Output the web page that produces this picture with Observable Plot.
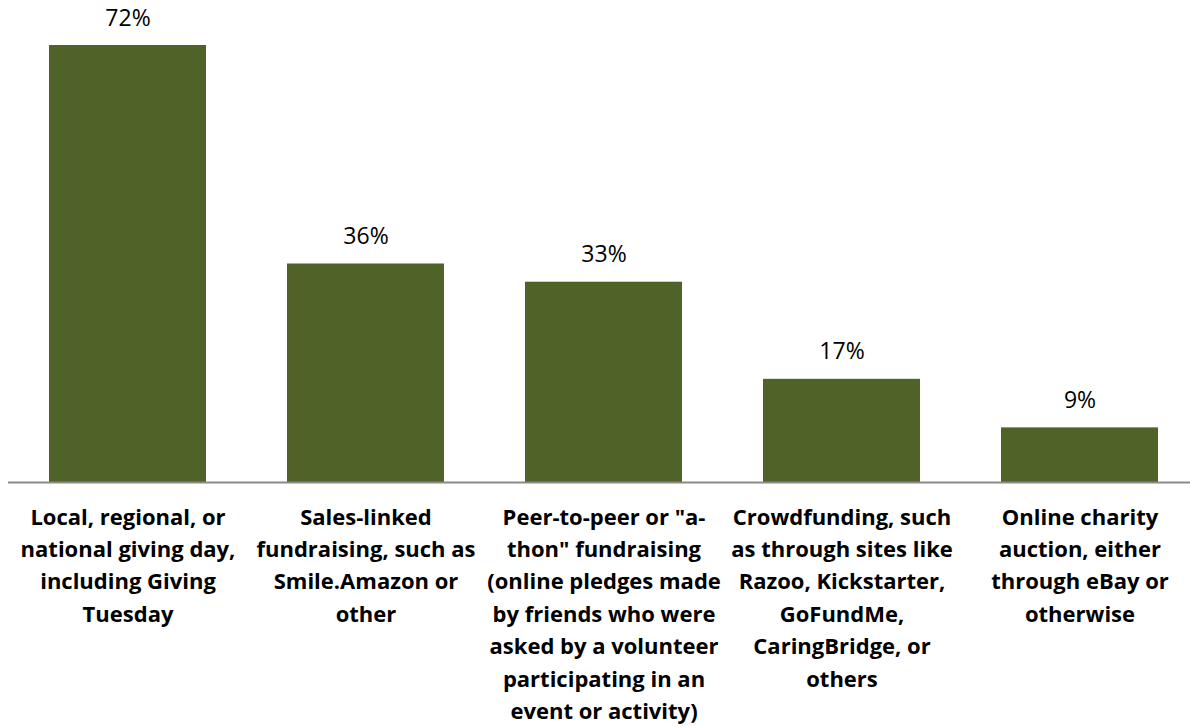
<!DOCTYPE html>
<html>
<head>
<meta charset="utf-8">
<script src="https://cdn.jsdelivr.net/npm/d3@7"></script>
<script src="https://cdn.jsdelivr.net/npm/@observablehq/plot@0.6"></script>
<style>
  html, body { margin: 0; padding: 0; background: #fff; }
  #chart svg { display: block; }
</style>
</head>
<body>
<div id="chart"></div>
<script>
const categories = [
  "Local, regional, or national giving day, including Giving Tuesday",
  "Sales-linked fundraising, such as Smile.Amazon or other",
  "Peer-to-peer or \"a-thon\" fundraising (online pledges made by friends who were asked by a volunteer participating in an event or activity)",
  "Crowdfunding, such as through sites like Razoo, Kickstarter, GoFundMe, CaringBridge, or others",
  "Online charity auction, either through eBay or otherwise"
];
const tickLabels = [
  "Local, regional, or\nnational giving day,\nincluding Giving\nTuesday",
  "Sales-linked\nfundraising, such as\nSmile.Amazon or\nother",
  "Peer-to-peer or \"a-\nthon\" fundraising\n(online pledges made\nby friends who were\nasked by a volunteer\nparticipating in an\nevent or activity)",
  "Crowdfunding, such\nas through sites like\nRazoo, Kickstarter,\nGoFundMe,\nCaringBridge, or\nothers",
  "Online charity\nauction, either\nthrough eBay or\notherwise"
];
const values = [72, 36, 33, 17, 9];

const data = categories.map((c, i) => ({category: c, value: values[i], label: values[i] + "%"}));
const labelOf = new Map(categories.map((c, i) => [c, tickLabels[i]]));

const chart = Plot.plot({
  width: 1190,
  height: 727,
  marginTop: 45,
  marginBottom: 245,
  marginLeft: 8,
  marginRight: 0,
  style: {fontFamily: "'Open Sans', sans-serif", color: "#000", background: "#fff"},
  x: {domain: categories, range: [8.5, 1198.5], paddingInner: 0.34, paddingOuter: 0.17, axis: null},
  y: {domain: [0, 72], axis: null},
  marks: [
    Plot.barY(data, {x: "category", y: "value", fill: "#4F6228"}),
    Plot.ruleY([0], {stroke: "#898989", strokeWidth: 2}),
    Plot.text(data, {x: "category", y: "value", text: "label", dy: -20, fontSize: 23, fill: "#000", lineAnchor: "bottom"}),
    Plot.axisX({
      tickSize: 0,
      tickPadding: 19,
      fontSize: 22,
      fontWeight: "bold",
      lineHeight: 1.475,
      fill: "#000",
      tickFormat: (d) => labelOf.get(d),
      label: null
    })
  ]
});
document.getElementById("chart").appendChild(chart);
</script>
</body>
</html>
